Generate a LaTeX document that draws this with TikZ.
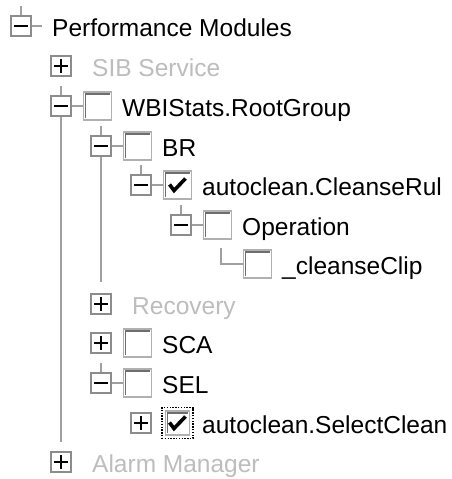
\documentclass[tikz,border=0pt]{standalone}
\usepackage{fontspec}
\setmainfont{Liberation Sans}
\usetikzlibrary{calc}
\definecolor{linegray}{HTML}{A0A0A0}
\definecolor{boxgray}{HTML}{8C8C8C}
\definecolor{cblight}{HTML}{B0B0B0}
\definecolor{dimtext}{HTML}{BDBDBD}
\definecolor{cbdark}{HTML}{6E6E6E}
\def\ppbb{path picture bounding box}
\def\cbframe{\draw[cbdark, line width=1.6pt] ([shift={(2,2)}]\ppbb.south west) -- ([shift={(2,-2)}]\ppbb.north west) -- ([shift={(-2,-2)}]\ppbb.north east);}
\def\cbtick{\draw[black, line width=3.6pt, line join=miter] ([shift={(-8,0.5)}]\ppbb.center) -- ([shift={(-3.5,-5.5)}]\ppbb.center) -- ([shift={(8,6.5)}]\ppbb.center);}
\begin{document}
\begin{tikzpicture}[x=1pt,y=1pt,
  expbox/.style={draw=boxgray, line width=1.8pt, fill=white, minimum size=20pt, inner sep=0pt},
  minus/.style={expbox, path picture={\draw[line width=2.4pt,black] ([shift={(-7,0)}]\ppbb.center) -- ([shift={(7,0)}]\ppbb.center);}},
  plus/.style={expbox, path picture={\draw[line width=2.4pt,black] ([shift={(-7,0)}]\ppbb.center) -- ([shift={(7,0)}]\ppbb.center) ([shift={(0,-7)}]\ppbb.center) -- ([shift={(0,7)}]\ppbb.center);}},
  cbox/.style={draw=cblight, line width=1.8pt, fill=white, minimum size=28pt, inner sep=0pt, path picture={\cbframe}},
  cboxchk/.style={draw=cblight, line width=1.8pt, fill=white, minimum size=28pt, inner sep=0pt, path picture={\cbframe\cbtick}},
  focusbox/.style={draw=black, line width=1.4pt, dash pattern=on 1.4pt off 1.4pt, minimum size=31pt, inner sep=0pt},
  conn/.style={draw=linegray, line width=1.8pt},
  lbl/.style={anchor=base west, inner sep=0pt, font=\fontsize{24.5}{28}\selectfont, text=black},
  dim/.style={lbl, text=dimtext}]
\fill[white] (0,0) rectangle (451,-479);
\useasboundingbox (0,0) rectangle (451,-479);
\coordinate (k6) at (221,-264);
\node[minus] (e0) at (21,-26) {};
\node[lbl] (t0) at (52,-36.5) {Performance Modules};
\node[plus] (e1) at (61,-66) {};
\node[dim] (t1) at (92,-76.5) {SIB Service};
\node[minus] (e2) at (61,-106) {};
\node[cbox] (c2) at (97.5,-106) {};
\node[lbl] (t2) at (122,-116.5) {WBIStats.RootGroup};
\node[minus] (e3) at (101,-146) {};
\node[cbox] (c3) at (137.5,-146) {};
\node[lbl] (t3) at (162,-156.5) {BR};
\node[minus] (e4) at (141,-185) {};
\node[cboxchk] (c4) at (177.5,-185) {};
\node[lbl] (t4) at (202,-195.5) {autoclean.CleanseRul};
\node[minus] (e5) at (181,-225) {};
\node[cbox] (c5) at (217.5,-225) {};
\node[lbl] (t5) at (242,-235.5) {Operation};
\node[cbox] (c6) at (257.5,-264) {};
\node[lbl] (t6) at (282,-274.5) {\_cleanseClip};
\node[plus] (e7) at (101,-304) {};
\node[dim] (t7) at (132,-314.5) {Recovery};
\node[plus] (e8) at (101,-343) {};
\node[cbox] (c8) at (137.5,-343) {};
\node[lbl] (t8) at (162,-353.5) {SCA};
\node[minus] (e9) at (101,-383) {};
\node[cbox] (c9) at (137.5,-383) {};
\node[lbl] (t9) at (162,-393.5) {SEL};
\node[plus] (e10) at (141,-423) {};
\node[cboxchk, minimum size=24pt] (c10) at (177.5,-423) {};
\node[focusbox] (f10) at (c10) {};
\node[lbl] (t10) at (202,-433.5) {autoclean.SelectClean};
\node[plus] (e11) at (61,-462) {};
\node[dim] (t11) at (92,-472.5) {Alarm Manager};
\foreach \e in {e0,e2,e3,e4,e5,e9} {\draw[conn] (\e.north) -- ++(0,9.5);}
\draw[conn] (e0.east) -- ++(10,0);
\draw[conn] (e2.east) -- (c2.west);
\draw[conn] (e3.east) -- (c3.west);
\draw[conn] (e4.east) -- (c4.west);
\draw[conn] (e5.east) -- (c5.west);
\draw[conn] (e9.east) -- (c9.west);
\draw[conn] (e2.south) -- ($(e11.north)+(0,9)$);
\draw[conn] (e3.south) -- ($(e7.north)+(0,11)$);
\draw[conn] ($(k6)+(0,16)$) -- (k6) -- (c6.west);
\end{tikzpicture}
\end{document}
